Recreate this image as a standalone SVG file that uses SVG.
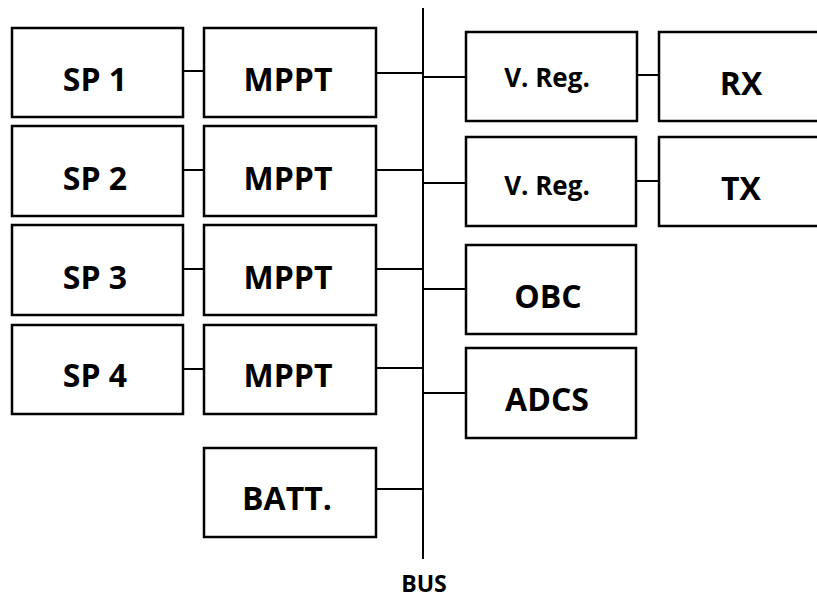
<svg xmlns="http://www.w3.org/2000/svg" width="817" height="599" viewBox="0 0 817 599">
<style>
.box{fill:#fff;stroke:#000;stroke-width:2.5}
.ln{stroke:#000;stroke-width:2;fill:none}
.t{font-family:"Open Sans","DejaVu Sans",sans-serif;font-weight:bold;fill:#000;text-anchor:middle}
.big{font-size:32px}
.mid{font-size:26px}
.sm{font-size:23px}
</style>
<rect width="817" height="599" fill="#fff"/>
<g id="connectors">
<line class="ln" x1="423" y1="8" x2="423" y2="559"/>
<line class="ln" x1="183" y1="71" x2="204" y2="71"/>
<line class="ln" x1="183" y1="170" x2="204" y2="170"/>
<line class="ln" x1="183" y1="269" x2="204" y2="269"/>
<line class="ln" x1="183" y1="369" x2="204" y2="369"/>
<line class="ln" x1="376" y1="73" x2="423" y2="73"/>
<line class="ln" x1="376" y1="170" x2="423" y2="170"/>
<line class="ln" x1="376" y1="269" x2="423" y2="269"/>
<line class="ln" x1="376" y1="368" x2="423" y2="368"/>
<line class="ln" x1="376" y1="489" x2="423" y2="489"/>
<line class="ln" x1="423" y1="77" x2="466" y2="77"/>
<line class="ln" x1="423" y1="183" x2="466" y2="183"/>
<line class="ln" x1="423" y1="289" x2="466" y2="289"/>
<line class="ln" x1="423" y1="393" x2="466" y2="393"/>
<line class="ln" x1="637" y1="75" x2="659" y2="75"/>
<line class="ln" x1="637" y1="181" x2="659" y2="181"/>
</g>
<g id="sp1"><rect class="box" x="12" y="28" width="171" height="89"/><text class="t big" x="95" y="91">SP 1</text></g>
<g id="sp2"><rect class="box" x="12" y="126" width="171" height="90"/><text class="t big" x="95" y="190">SP 2</text></g>
<g id="sp3"><rect class="box" x="12" y="225" width="171" height="90"/><text class="t big" x="95" y="289">SP 3</text></g>
<g id="sp4"><rect class="box" x="12" y="325" width="171" height="89"/><text class="t big" x="95" y="387">SP 4</text></g>
<g id="mppt1"><rect class="box" x="204" y="28" width="172" height="89"/><text class="t big" x="288" y="91">MPPT</text></g>
<g id="mppt2"><rect class="box" x="204" y="126" width="172" height="90"/><text class="t big" x="288" y="190">MPPT</text></g>
<g id="mppt3"><rect class="box" x="204" y="225" width="172" height="90"/><text class="t big" x="288" y="289">MPPT</text></g>
<g id="mppt4"><rect class="box" x="204" y="325" width="172" height="89"/><text class="t big" x="288" y="387">MPPT</text></g>
<g id="batt"><rect class="box" x="204" y="448" width="172" height="89"/><text class="t big" x="287" y="510">BATT.</text></g>
<g id="vreg1"><rect class="box" x="466" y="32" width="171" height="89"/><text class="t mid" x="547" y="87">V. Reg.</text></g>
<g id="vreg2"><rect class="box" x="466" y="137" width="170" height="89"/><text class="t mid" x="547" y="195">V. Reg.</text></g>
<g id="obc"><rect class="box" x="466" y="245" width="170" height="89"/><text class="t big" x="548" y="308">OBC</text></g>
<g id="adcs"><rect class="box" x="466" y="348" width="170" height="90"/><text class="t big" x="547" y="411">ADCS</text></g>
<g id="rx"><rect class="box" x="659" y="32" width="171" height="89"/><text class="t big" x="741" y="95">RX</text></g>
<g id="tx"><rect class="box" x="659" y="137" width="171" height="89"/><text class="t big" x="741" y="200">TX</text></g>
<g id="bus"><text class="t sm" x="424" y="592">BUS</text></g>
</svg>
